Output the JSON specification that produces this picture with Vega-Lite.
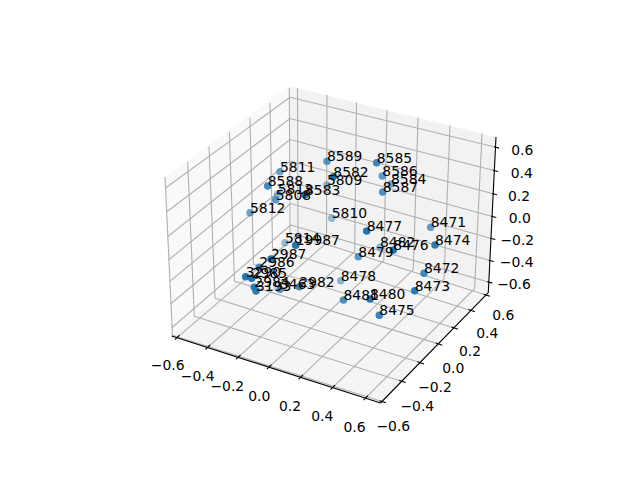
{"$schema":"https://vega.github.io/schema/vega-lite/v6.json","width":640,"height":480,"padding":0,"autosize":{"type":"fit","contains":"padding"},"background":"white","view":{"stroke":null},
"datasets":{
"panes":[
{"pane":"left","sx":165,"sy":177,"sy2":177},{"pane":"left","sx":171.7,"sy":172.1,"sy2":336},{"pane":"left","sx":289.5,"sy":86,"sy2":233.3},{"pane":"left","sx":291,"sy":232,"sy2":232},
{"pane":"back","sx":289.5,"sy":86,"sy2":86},{"pane":"back","sx":291,"sy":86.4,"sy2":232},{"pane":"back","sx":488.3,"sy":135.2,"sy2":292.7},{"pane":"back","sx":496,"sy":137,"sy2":137},
{"pane":"floor","sx":171.7,"sy":336,"sy2":336},{"pane":"floor","sx":291,"sy":232,"sy2":374.3},{"pane":"floor","sx":380.5,"sy":259.5,"sy2":403},{"pane":"floor","sx":488.3,"sy":292.7,"sy2":292.7}],
"grid":[
{"sx":177,"sy":337.7,"sx2":298,"sy2":234.2},{"sx":207.5,"sy":347.5,"sx2":326.5,"sy2":242.9},{"sx":238,"sy":357.3,"sx2":354.7,"sy2":251.6},{"sx":269,"sy":367.2,"sx2":383.8,"sy2":260.6},{"sx":300.5,"sy":377.3,"sx2":413.3,"sy2":269.6},{"sx":332.5,"sy":387.6,"sx2":444,"sy2":279.1},{"sx":365.5,"sy":398.2,"sx2":474.6,"sy2":288.5},
{"sx":298,"sy":234.2,"sx2":297.5,"sy2":88},{"sx":326.5,"sy":242.9,"sx2":327,"sy2":95.1},{"sx":354.7,"sy":251.6,"sx2":356.5,"sy2":102.5},{"sx":383.8,"sy":260.6,"sx2":387,"sy2":110},{"sx":413.3,"sy":269.6,"sx2":418,"sy2":117.6},{"sx":444,"sy":279.1,"sx2":450,"sy2":125.6},{"sx":474.6,"sy":288.5,"sx2":482,"sy2":133.5},
{"sx":382,"sy":401.5,"sx2":172.5,"sy2":335.3},{"sx":401.7,"sy":381.2,"sx2":194.3,"sy2":316.3},{"sx":420,"sy":362.6,"sx2":215,"sy2":298.2},{"sx":438.3,"sy":343.9,"sx2":234.5,"sy2":281.2},{"sx":454,"sy":327.9,"sx2":253.5,"sy2":264.6},{"sx":471,"sy":310.4,"sx2":272.5,"sy2":248},{"sx":486,"sy":295,"sx2":290,"sy2":232.8},
{"sx":172.5,"sy":335.3,"sx2":165,"sy2":177},{"sx":194.3,"sy":316.3,"sx2":187.7,"sy2":161.7},{"sx":215,"sy":298.2,"sx2":209,"sy2":146.7},{"sx":234.5,"sy":281.2,"sx2":229.3,"sy2":131.7},{"sx":253.5,"sy":264.6,"sx2":250,"sy2":117.5},{"sx":272.5,"sy":248,"sx2":270,"sy2":103},{"sx":290,"sy":232.8,"sx2":289.3,"sy2":88},
{"sx":165.5,"sy":188,"sx2":290,"sy2":97.3},{"sx":166.5,"sy":212,"sx2":290,"sy2":118.5},{"sx":167.5,"sy":236.7,"sx2":290,"sy2":139.5},{"sx":168.5,"sy":260,"sx2":290,"sy2":161},{"sx":169.5,"sy":281.7,"sx2":290.3,"sy2":182},{"sx":170.5,"sy":304,"sx2":290.5,"sy2":203.5},{"sx":171.5,"sy":328,"sx2":290.7,"sy2":225},
{"sx":290,"sy":97.3,"sx2":496,"sy2":147.3},{"sx":290,"sy":118.5,"sx2":495,"sy2":170.7},{"sx":290,"sy":139.5,"sx2":494,"sy2":194},{"sx":290,"sy":161,"sx2":493.3,"sy2":216.7},{"sx":290.3,"sy":182,"sx2":492.3,"sy2":238.7},{"sx":290.5,"sy":203.5,"sx2":490.7,"sy2":260.7},{"sx":290.7,"sy":225,"sx2":489.3,"sy2":282.3}],
"axes":[
{"sx":171.7,"sy":336,"sx2":380.5,"sy2":403},{"sx":380.5,"sy":403,"sx2":488.3,"sy2":292.7},{"sx":488.3,"sy":292.7,"sx2":496,"sy2":137},
{"sx":179.5,"sy":335.2,"sx2":175,"sy2":339.7},{"sx":210,"sy":345,"sx2":205.5,"sy2":349.5},{"sx":240.5,"sy":354.8,"sx2":236,"sy2":359.3},{"sx":271.5,"sy":364.7,"sx2":267,"sy2":369.2},{"sx":303,"sy":374.8,"sx2":298.5,"sy2":379.3},{"sx":335,"sy":385.1,"sx2":330.5,"sy2":389.6},{"sx":368,"sy":395.7,"sx2":363.5,"sy2":400.2},
{"sx":386,"sy":402.8,"sx2":379.5,"sy2":400.7},{"sx":405.7,"sy":382.5,"sx2":399.2,"sy2":380.4},{"sx":424,"sy":363.9,"sx2":417.5,"sy2":361.8},{"sx":442.3,"sy":345.2,"sx2":435.8,"sy2":343.1},{"sx":458,"sy":329.2,"sx2":451.5,"sy2":327.1},{"sx":475,"sy":311.7,"sx2":468.5,"sy2":309.6},{"sx":490,"sy":296.3,"sx2":483.5,"sy2":294.2},
{"sx":499,"sy":148.1,"sx2":494,"sy2":146.8},{"sx":498,"sy":171.5,"sx2":493,"sy2":170.2},{"sx":497,"sy":194.8,"sx2":492,"sy2":193.5},{"sx":496.3,"sy":217.5,"sx2":491.3,"sy2":216.2},{"sx":495.3,"sy":239.5,"sx2":490.3,"sy2":238.2},{"sx":493.7,"sy":261.5,"sx2":488.7,"sy2":260.2},{"sx":492.3,"sy":283.1,"sx2":487.3,"sy2":281.8}],
"points":[
{"label":"5811","sx":280,"sy":171.7,"depth":0.65},{"label":"8588","sx":267.7,"sy":186,"depth":0.85},{"label":"5813","sx":277.7,"sy":194.3,"depth":0.5},{"label":"5808","sx":275.7,"sy":199.7,"depth":0.75},{"label":"8583","sx":305,"sy":195,"depth":1},{"label":"5812","sx":250,"sy":212.7,"depth":0.65},{"label":"8589","sx":327,"sy":161.3,"depth":0.75},{"label":"8582","sx":333.3,"sy":176.7,"depth":1},{"label":"5809","sx":326.9,"sy":185,"depth":0.5},{"label":"5810","sx":331.7,"sy":218.3,"depth":0.45},{"label":"5814","sx":285,"sy":242.7,"depth":0.45},{"label":"19987","sx":295.7,"sy":245.3,"depth":1},{"label":"2987","sx":271,"sy":259,"depth":1},{"label":"2986","sx":259.3,"sy":267.3,"depth":0.85},{"label":"3290","sx":245.7,"sy":276.7,"depth":1},{"label":"2985","sx":251.7,"sy":278.3,"depth":1},{"label":"2984","sx":254.3,"sy":287.3,"depth":0.95},{"label":"3193","sx":256,"sy":291,"depth":0.95},{"label":"3463","sx":280,"sy":289.3,"depth":0.8},{"label":"2982","sx":299.3,"sy":286.7,"depth":0.85},{"label":"8478","sx":340.7,"sy":280.8,"depth":0.5},{"label":"8481","sx":343.5,"sy":300,"depth":0.8},{"label":"8477","sx":366.7,"sy":231,"depth":1},{"label":"8471","sx":430.7,"sy":227.3,"depth":0.7},{"label":"8474","sx":435,"sy":245,"depth":0.95},{"label":"8482","sx":380,"sy":247.3,"depth":0.5},{"label":"8476","sx":393.3,"sy":250,"depth":1},{"label":"8479","sx":358.3,"sy":256.7,"depth":0.75},{"label":"8472","sx":424,"sy":273.3,"depth":0.85},{"label":"8473","sx":414.7,"sy":290.7,"depth":0.95},{"label":"8480","sx":370,"sy":299,"depth":1},{"label":"8475","sx":379.3,"sy":315.3,"depth":0.9},{"label":"8585","sx":376.7,"sy":162.7,"depth":0.85},{"label":"8586","sx":382.3,"sy":176,"depth":0.7},{"label":"8584","sx":391,"sy":184,"depth":0.6},{"label":"8587","sx":382.7,"sy":192,"depth":0.8}],
"ticklabels":[
{"t":"−0.6","sx":167.7,"sy":366},{"t":"−0.4","sx":197.7,"sy":376.7},{"t":"−0.2","sx":227.3,"sy":386.7},{"t":"0.0","sx":259.3,"sy":396.7},{"t":"0.2","sx":290,"sy":407.3},{"t":"0.4","sx":322.3,"sy":417.3},{"t":"0.6","sx":354.5,"sy":428},
{"t":"−0.6","sx":393.3,"sy":426.7},{"t":"−0.4","sx":417.3,"sy":407.3},{"t":"−0.2","sx":435,"sy":388.3},{"t":"0.0","sx":453.3,"sy":369.3},{"t":"0.2","sx":470,"sy":351.7},{"t":"0.4","sx":487.3,"sy":334},{"t":"0.6","sx":503.3,"sy":316},
{"t":"0.6","sx":522.3,"sy":151},{"t":"0.4","sx":521.7,"sy":174},{"t":"0.2","sx":519,"sy":197.3},{"t":"0.0","sx":519.7,"sy":219.3},{"t":"−0.2","sx":517.3,"sy":241.3},{"t":"−0.4","sx":516.7,"sy":263.3},{"t":"−0.6","sx":514,"sy":285}]
},
"encoding":{
"x":{"field":"sx","type":"quantitative","scale":{"domain":[0,640],"nice":false,"zero":false},"axis":null},
"y":{"field":"sy","type":"quantitative","scale":{"domain":[480,0],"nice":false,"zero":false},"axis":null}},
"layer":[
{"data":{"name":"panes"},"mark":{"type":"area","opacity":1,"clip":false},"encoding":{"y2":{"field":"sy2"},"color":{"field":"pane","type":"nominal","legend":null,"scale":{"domain":["left","back","floor"],"range":["#f9f9f9","#f2f2f2","#f5f5f5"]}}}},
{"data":{"name":"grid"},"mark":{"type":"rule","color":"#b0b0b0","strokeWidth":1.1},"encoding":{"x2":{"field":"sx2"},"y2":{"field":"sy2"}}},
{"data":{"name":"axes"},"mark":{"type":"rule","color":"#000000","strokeWidth":1.1},"encoding":{"x2":{"field":"sx2"},"y2":{"field":"sy2"}}},
{"data":{"name":"points"},"mark":{"type":"point","filled":true,"shape":"circle","size":56,"color":"#1f77b4"},"encoding":{"opacity":{"field":"depth","type":"quantitative","legend":null,"scale":{"domain":[0,1],"range":[0,1]}}}},
{"data":{"name":"points"},"mark":{"type":"text","align":"left","baseline":"alphabetic","font":"DejaVu Sans","fontSize":13.9,"color":"#000000"},"encoding":{"text":{"field":"label","type":"nominal"}}},
{"data":{"name":"ticklabels"},"mark":{"type":"text","align":"center","baseline":"middle","font":"DejaVu Sans","fontSize":13.9,"color":"#000000"},"encoding":{"text":{"field":"t","type":"nominal"}}}
]}
